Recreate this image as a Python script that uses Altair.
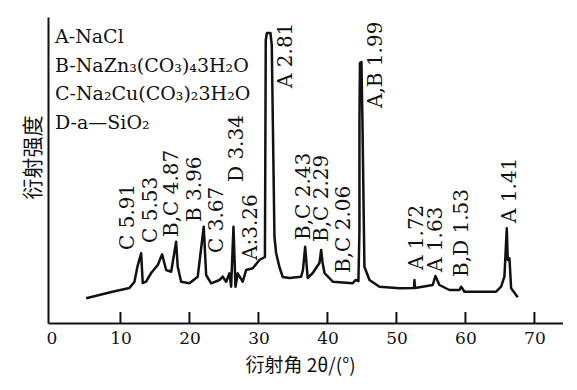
import altair as alt
import pandas as pd

# XRD curve: 2theta (deg) and relative intensity (arbitrary units)
two_theta = [5.03, 8.84, 11.30, 12.03, 12.46, 13.00, 13.23, 13.72, 14.45, 15.41,
             16.04, 16.62, 17.35, 18.07, 18.30, 18.80, 20.00, 21.20, 22.07, 22.42,
             23.14, 24.35, 24.83, 25.32, 25.80, 26.04, 26.38, 26.67, 27.00, 27.72,
             28.22, 29.17, 30.14, 30.94, 31.06, 31.23, 31.74, 31.93, 32.32, 32.56,
             33.04, 33.52, 34.49, 36.19, 36.45, 36.77, 37.14, 37.87, 38.84, 39.09,
             39.28, 39.57, 40.77, 43.67, 44.06, 44.49, 44.64, 44.64, 44.71, 44.93,
             45.07, 45.36, 46.09, 47.54, 50.43, 52.54, 52.61, 52.68, 53.33, 55.26,
             55.65, 56.23, 57.68, 59.13, 59.38, 59.86, 64.45, 65.17, 65.65, 65.99,
             66.13, 66.38, 66.62, 67.58]
intensity = [24.7, 31.3, 35.0, 41.3, 56.3, 69.7, 40.0, 41.3, 50.0, 58.0,
             68.7, 53.0, 51.3, 81.3, 56.3, 41.3, 39.7, 46.3, 96.3, 48.0,
             39.7, 43.0, 46.3, 41.3, 49.7, 36.3, 96.3, 36.3, 49.7, 41.3,
             53.0, 54.7, 63.0, 66.0, 283.0, 290.0, 290.0, 278.0, 86.0, 70.0,
             56.0, 46.0, 45.0, 46.3, 53.0, 76.3, 45.0, 50.0, 60.0, 73.0,
             61.0, 50.0, 41.3, 39.7, 43.0, 42.0, 93.0, 203.0, 260.0, 261.0,
             203.0, 56.3, 43.0, 36.3, 34.7, 35.0, 43.0, 35.0, 35.7, 38.0,
             47.0, 38.0, 33.0, 33.0, 36.3, 31.3, 31.3, 36.3, 46.3, 94.7,
             63.0, 64.7, 34.7, 25.7]

# peak annotations
peak_labels = ["C 5.91", "C 5.53", "B,C 4.87", "B 3.96", "C 3.67", "D 3.34",
               "A:3.26", "A 2.81", "B,C 2.43", "B,C 2.29", "B,C 2.06", "A,B 1.99",
               "A 1.72", "A 1.63", "B,D 1.53", "A 1.41"]
label_2theta = [11.16, 14.49, 17.54, 20.87, 24.06, 26.96, 28.99, 34.06,
                36.67, 39.28, 42.46, 47.10, 53.04, 55.80, 59.57, 66.50]
label_base = [73, 80, 86, 101, 70, 141, 63, 235, 83, 81, 50, 215, 53, 51, 46, 100]

legend_lines = ["A-NaCl", "B-NaZn₃(CO₃)₄3H₂O", "C-Na₂Cu(CO₃)₂3H₂O", "D-a—SiO₂"]
x_ticks = [0, 10, 20, 30, 40, 50, 60, 70]

curve = pd.DataFrame({"t": two_theta, "I": intensity, "i": range(len(two_theta))})
labels = pd.DataFrame({"lab": peak_labels, "t": label_2theta, "I": label_base})
ticks = pd.DataFrame({"t": x_ticks[1:]})

W, H = 515, 306
xscale = alt.Scale(domain=[-0.5, 74.14], nice=False, zero=False)
yscale = alt.Scale(domain=[0, 306], nice=False, zero=False)

xaxis = alt.Axis(values=x_ticks, ticks=False, grid=False, domain=True,
                 domainColor="#111", domainWidth=2, labelFlush=False,
                 labelFont="DejaVu Serif", labelFontSize=17, labelColor="#111",
                 labelPadding=7, title="衍射角 2θ/(°)", titleFont="Noto Sans CJK SC",
                 titleFontSize=19, titleFontWeight="normal", titleColor="#111",
                 titleX=252, titleY=42, titleAlign="center", titleBaseline="middle")
yaxis = alt.Axis(ticks=False, labels=False, grid=False, domain=True,
                 domainColor="#111", domainWidth=2, title="衍射强度",
                 titleFont="Noto Sans CJK SC", titleFontSize=21, titleFontWeight="normal",
                 titleColor="#111", titleAngle=270, titleX=-15, titleY=140,
                 titleAlign="center", titleBaseline="middle")

line = alt.Chart(curve).mark_line(color="#111", strokeWidth=2.5, strokeJoin="round").encode(
    x=alt.X("t:Q", scale=xscale, axis=xaxis),
    y=alt.Y("I:Q", scale=yscale, axis=yaxis),
    order="i:Q",
)

tick_rules = alt.Chart(ticks).mark_rule(color="#111", strokeWidth=2).encode(
    x=alt.X("t:Q", scale=xscale),
    y=alt.value(H),
    y2=alt.value(H - 11),
)

peak_text = alt.Chart(labels).mark_text(
    font="DejaVu Serif", fontSize=20, angle=270, align="left", baseline="middle",
    color="#111",
).encode(
    x=alt.X("t:Q", scale=xscale),
    y=alt.Y("I:Q", scale=yscale),
    text="lab:N",
)

legend = alt.Chart(pd.DataFrame({"k": [0]})).mark_text(
    font="DejaVu Serif", fontSize=19, align="left", baseline="alphabetic",
    lineHeight=28.5, color="#111",
).encode(
    x=alt.value(7),
    y=alt.value(26),
    text=alt.value(legend_lines),
)

chart = alt.layer(line, tick_rules, peak_text, legend).properties(
    width=W, height=H,
    autosize=alt.AutoSizeParams(type="none"),
    padding={"left": 40, "top": 9, "right": 0, "bottom": 59},
    background="white",
).configure_view(stroke=None)

chart.save("out.html", embed_options={"renderer": "svg", "actions": False})
